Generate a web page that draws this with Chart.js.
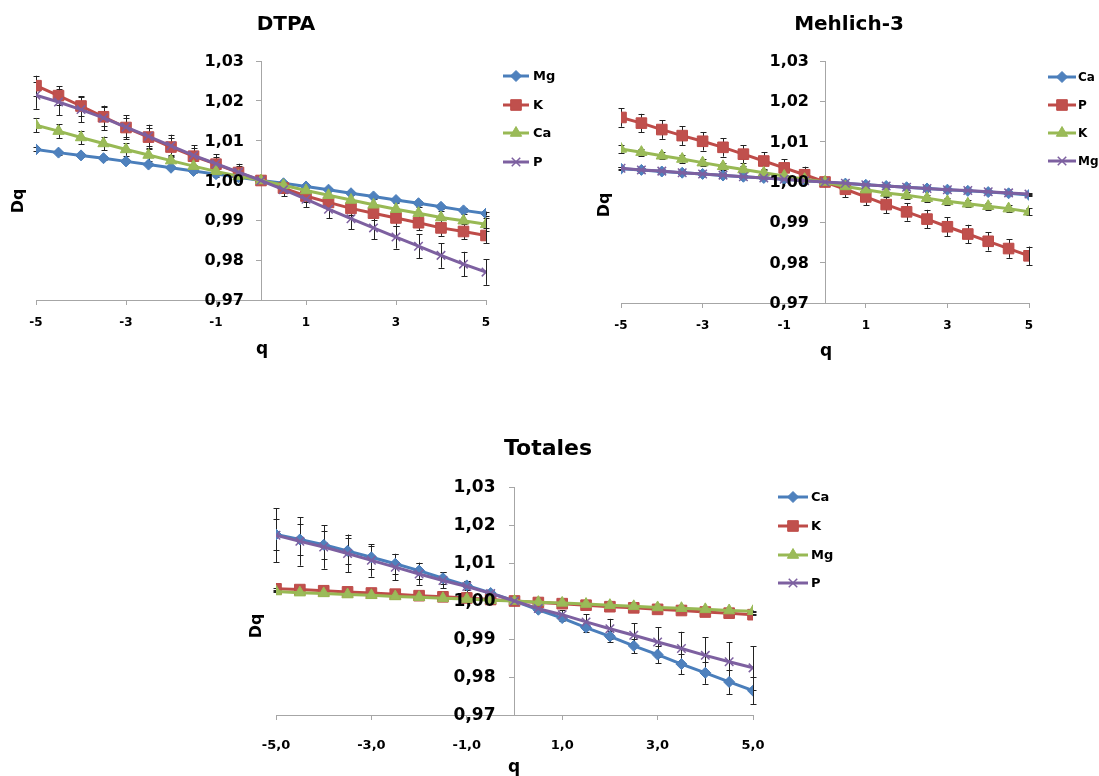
<!DOCTYPE html>
<html><head><meta charset="utf-8">
<script src="https://cdn.jsdelivr.net/npm/chart.js@4.4.1/dist/chart.umd.min.js"></script>
<style>
html,body{margin:0;padding:0;background:#fff;}
body{width:1099px;height:776px;position:relative;overflow:hidden;}
canvas{position:absolute;}
</style></head><body>
<canvas id="c1" width="575" height="370" style="left:0px;top:0px"></canvas>
<canvas id="c2" width="524" height="370" style="left:575px;top:0px"></canvas>
<canvas id="c3" width="640" height="356" style="left:230px;top:420px"></canvas>
<script>
// ---------- DATA ----------
const qValues = [-5,-4.5,-4,-3.5,-3,-2.5,-2,-1.5,-1,-0.5,0,0.5,1,1.5,2,2.5,3,3.5,4,4.5,5];
const xTickValues = [-5,-3,-1,1,3,5];
const yTickValues = [0.97,0.98,0.99,1.00,1.01,1.02,1.03];

// DTPA
const dtpaTitle = 'DTPA';
const dtpaNames = ['Mg','K','Ca','P'];
const dtpaMg = [1.0078,1.0070,1.0063,1.0056,1.0048,1.0040,1.0032,1.0024,1.0016,1.0008,1.0000,0.9993,0.9985,0.9977,0.9968,0.9960,0.9951,0.9943,0.9934,0.9925,0.9917];
const dtpaK  = [1.0238,1.0213,1.0187,1.0160,1.0133,1.0109,1.0084,1.0061,1.0041,1.0020,1.0000,0.9981,0.9961,0.9945,0.9930,0.9918,0.9906,0.9894,0.9881,0.9872,0.9862];
const dtpaCa = [1.0139,1.0124,1.0108,1.0093,1.0078,1.0064,1.0050,1.0036,1.0023,1.0011,1.0000,0.9988,0.9975,0.9963,0.9951,0.9939,0.9928,0.9918,0.9907,0.9899,0.9890];
const dtpaP  = [1.0214,1.0197,1.0178,1.0157,1.0134,1.0111,1.0087,1.0063,1.0042,1.0021,1.0000,0.9977,0.9953,0.9928,0.9904,0.9881,0.9858,0.9835,0.9812,0.9790,0.9770];
const dtpaErrMg = [0.0005,0.0005,0.0005,0.0005,0.0005,0.0004,0.0004,0.0004,0.0003,0.0003,0.0003,0.0003,0.0003,0.0004,0.0004,0.0004,0.0004,0.0005,0.0005,0.0005,0.0005];
const dtpaErrK  = [0.0025,0.0024,0.0024,0.0024,0.0023,0.0023,0.0022,0.0021,0.0019,0.0017,0.0008,0.0012,0.0014,0.0016,0.0017,0.0018,0.0019,0.0019,0.0020,0.0020,0.0020];
const dtpaErrCa = [0.0018,0.0017,0.0017,0.0017,0.0016,0.0016,0.0015,0.0014,0.0013,0.0011,0.0006,0.0010,0.0012,0.0013,0.0014,0.0015,0.0016,0.0016,0.0017,0.0017,0.0017];
const dtpaErrP  = [0.0034,0.0033,0.0032,0.0031,0.0030,0.0029,0.0028,0.0026,0.0024,0.0021,0.0010,0.0016,0.0020,0.0023,0.0026,0.0028,0.0029,0.0030,0.0031,0.0031,0.0032];

// Mehlich-3
const mehTitle = 'Mehlich-3';
const mehNames = ['Ca','P','K','Mg'];
const mehCa = [1.0033,1.0030,1.0026,1.0023,1.0020,1.0016,1.0013,1.0010,1.0007,1.0003,1.0000,0.9996,0.9993,0.9990,0.9987,0.9984,0.9981,0.9978,0.9975,0.9972,0.9968];
const mehP  = [1.0160,1.0146,1.0130,1.0115,1.0101,1.0086,1.0069,1.0052,1.0035,1.0018,1.0000,0.9982,0.9963,0.9944,0.9926,0.9908,0.9889,0.9871,0.9853,0.9835,0.9817];
const mehK  = [1.0082,1.0074,1.0065,1.0057,1.0048,1.0039,1.0031,1.0023,1.0015,1.0007,1.0000,0.9989,0.9981,0.9973,0.9967,0.9960,0.9952,0.9946,0.9940,0.9934,0.9926];
const mehMg = [1.0034,1.0030,1.0027,1.0023,1.0020,1.0017,1.0013,1.0010,1.0007,1.0003,1.0000,0.9997,0.9993,0.9990,0.9987,0.9984,0.9981,0.9979,0.9976,0.9973,0.9970];
const mehErrCa = [0.0003,0.0003,0.0003,0.0003,0.0003,0.0003,0.0003,0.0003,0.0003,0.0003,0.0003,0.0003,0.0003,0.0003,0.0003,0.0003,0.0003,0.0003,0.0003,0.0003,0.0003];
const mehErrP  = [0.0023,0.0023,0.0023,0.0023,0.0023,0.0023,0.0022,0.0022,0.0021,0.0020,0.0010,0.0020,0.0021,0.0022,0.0022,0.0023,0.0023,0.0023,0.0023,0.0023,0.0023];
const mehErrK  = [0.0010,0.0009,0.0009,0.0009,0.0009,0.0009,0.0009,0.0009,0.0009,0.0008,0.0006,0.0008,0.0009,0.0009,0.0009,0.0009,0.0009,0.0009,0.0009,0.0009,0.0009];
const mehErrMg = [0.0003,0.0003,0.0003,0.0003,0.0003,0.0003,0.0003,0.0003,0.0003,0.0003,0.0003,0.0003,0.0003,0.0003,0.0003,0.0003,0.0003,0.0003,0.0003,0.0003,0.0003];

// Totales
const totTitle = 'Totales';
const totNames = ['Ca','K','Mg','P'];
const totCa = [1.0175,1.0162,1.0148,1.0132,1.0115,1.0098,1.0080,1.0060,1.0041,1.0021,1.0000,0.9977,0.9955,0.9930,0.9907,0.9882,0.9859,0.9834,0.9811,0.9787,0.9764];
const totK  = [1.0032,1.0030,1.0027,1.0024,1.0021,1.0018,1.0014,1.0011,1.0008,1.0004,1.0000,0.9996,0.9993,0.9989,0.9985,0.9982,0.9978,0.9975,0.9971,0.9968,0.9964];
const totMg = [1.0025,1.0022,1.0020,1.0017,1.0015,1.0012,1.0010,1.0007,1.0005,1.0002,1.0000,0.9997,0.9995,0.9992,0.9989,0.9986,0.9983,0.9981,0.9978,0.9975,0.9973];
const totP  = [1.0173,1.0157,1.0142,1.0125,1.0107,1.0089,1.0071,1.0054,1.0038,1.0020,1.0000,0.9980,0.9964,0.9945,0.9927,0.9910,0.9892,0.9875,0.9857,0.9840,0.9824];
const totErrCa = [0.0042,0.0040,0.0037,0.0034,0.0030,0.0026,0.0021,0.0016,0.0011,0.0006,0.0002,0.0004,0.0008,0.0012,0.0015,0.0019,0.0023,0.0026,0.0029,0.0032,0.0035];
const totErrK  = [0.0002,0.0002,0.0002,0.0002,0.0002,0.0002,0.0002,0.0002,0.0002,0.0002,0.0002,0.0002,0.0002,0.0002,0.0002,0.0002,0.0002,0.0002,0.0002,0.0002,0.0002];
const totErrMg = [0.0002,0.0002,0.0002,0.0002,0.0002,0.0002,0.0002,0.0002,0.0002,0.0002,0.0002,0.0002,0.0002,0.0002,0.0002,0.0002,0.0002,0.0002,0.0002,0.0002,0.0002];
const totErrP  = [0.0071,0.0064,0.0057,0.0050,0.0043,0.0035,0.0028,0.0021,0.0014,0.0008,0.0003,0.0006,0.0012,0.0020,0.0026,0.0032,0.0039,0.0044,0.0048,0.0051,0.0057];

// ---------- STYLE ----------
const FONT = "'DejaVu Sans', Verdana, sans-serif";
const AXIS = '#A6A6A6';
const seriesStyles = [
  {line:'#4A7EBB', fill:'#4F81BD', pointStyle:'rectRot', radius:5.5},
  {line:'#BE4B48', fill:'#C0504D', pointStyle:'rect', radius:7.5},
  {line:'#98B954', fill:'#9BBB59', pointStyle:'triangle', radius:6.5},
  {line:'#7D60A0', fill:'#8064A2', pointStyle:'crossRot', radius:6}
];

const fmtY = v => Number(v).toFixed(2).replace('.', ',');

const extrasPlugin = {
  id: 'extras',
  beforeDatasetsDraw(chart) {
    const ctx = chart.ctx, ys = chart.scales.y;
    ctx.save();
    ctx.strokeStyle = '#222';
    ctx.lineWidth = 1;
    chart.data.datasets.forEach((ds, i) => {
      const meta = chart.getDatasetMeta(i);
      meta.data.forEach((pt, j) => {
        const v = ds.data[j].y, e = ds.errors[j];
        const y1 = ys.getPixelForValue(v + e), y2 = ys.getPixelForValue(v - e);
        const x = Math.round(pt.x) + 0.5;
        ctx.beginPath();
        ctx.moveTo(x, y1); ctx.lineTo(x, y2);
        ctx.moveTo(x - 3, Math.round(y1) + 0.5); ctx.lineTo(x + 3, Math.round(y1) + 0.5);
        ctx.moveTo(x - 3, Math.round(y2) + 0.5); ctx.lineTo(x + 3, Math.round(y2) + 0.5);
        ctx.stroke();
      });
    });
    ctx.restore();
  },
  afterDraw(chart) {
    const o = chart.options.plugins.extras;
    const ctx = chart.ctx;
    const xs = chart.scales.x, ys = chart.scales.y;
    ctx.save();
    // y tick labels (left of the axis crossing at q = 0)
    const axisX = xs.getPixelForValue(0);
    ctx.fillStyle = '#000';
    ctx.textAlign = 'right';
    ctx.textBaseline = 'middle';
    ctx.font = 'bold ' + o.ySize + 'px ' + FONT;
    yTickValues.forEach(v => ctx.fillText(fmtY(v), axisX - o.yGap, ys.getPixelForValue(v) + 1));
    // titles
    ctx.textAlign = 'center';
    ctx.font = 'bold ' + o.titleSize + 'px ' + FONT;
    ctx.fillText(o.title, o.titleX, o.titleY);
    ctx.font = 'bold 17px ' + FONT;
    ctx.fillText('q', o.qX, o.qY);
    ctx.save();
    ctx.translate(o.dqX, o.dqY);
    ctx.rotate(-Math.PI / 2);
    ctx.font = 'bold 16px ' + FONT;
    ctx.fillText('Dq', 0, 0);
    ctx.restore();
    // legend
    const lg = o.legend;
    chart.data.datasets.forEach((ds, i) => {
      const st = seriesStyles[i];
      const y = lg.ys[i];
      ctx.strokeStyle = st.line;
      ctx.lineWidth = 3;
      ctx.beginPath();
      ctx.moveTo(lg.x0, y); ctx.lineTo(lg.x1, y);
      ctx.stroke();
      ctx.fillStyle = st.fill;
      ctx.strokeStyle = st.line;
      ctx.lineWidth = st.pointStyle === 'crossRot' ? 1.5 : 1;
      Chart.helpers.drawPoint(ctx, {pointStyle: st.pointStyle, radius: st.radius, rotation: 0, borderWidth: ctx.lineWidth}, (lg.x0 + lg.x1) / 2, y);
      ctx.fillStyle = '#000';
      ctx.textAlign = 'left';
      ctx.font = 'bold ' + lg.size + 'px ' + FONT;
      ctx.fillText(ds.label, lg.tx, y + 1);
    });
    ctx.restore();
  }
};

function makeChart(id, title, names, series, errors, cfg) {
  const datasets = series.map((vals, i) => ({
    label: names[i],
    data: qValues.map((q, j) => ({x: q, y: vals[j]})),
    errors: errors[i],
    borderColor: seriesStyles[i].line,
    backgroundColor: seriesStyles[i].fill,
    pointBackgroundColor: seriesStyles[i].fill,
    pointBorderColor: seriesStyles[i].line,
    pointBorderWidth: seriesStyles[i].pointStyle === 'crossRot' ? 1.5 : 1,
    pointStyle: seriesStyles[i].pointStyle,
    pointRadius: seriesStyles[i].radius,
    borderWidth: 3,
    tension: 0,
    order: series.length - 1 - i
  }));
  return new Chart(document.getElementById(id), {
    type: 'line',
    data: {datasets},
    plugins: [extrasPlugin],
    options: {
      responsive: false,
      animation: false,
      devicePixelRatio: 1,
      layout: {padding: cfg.padding},
      plugins: {
        legend: {display: false},
        tooltip: {enabled: false},
        extras: Object.assign({title, ySize: cfg.ySize}, cfg.extras)
      },
      scales: {
        x: {
          type: 'linear', min: -5, max: 5,
          afterBuildTicks: s => { s.ticks = xTickValues.map(v => ({value: v})); },
          afterFit: s => { s.height = 40; },
          grid: {drawOnChartArea: false, color: AXIS, tickLength: 5},
          border: {color: AXIS},
          ticks: {
            autoSkip: false, maxRotation: 0, color: '#000', padding: cfg.xPad,
            font: {family: FONT, weight: 'bold', size: cfg.xSize},
            callback: v => cfg.xDec ? v.toFixed(1).replace('.', ',') : String(v)
          }
        },
        y: {
          type: 'linear', position: {x: 0}, min: 0.97, max: 1.03,
          afterBuildTicks: s => { s.ticks = yTickValues.map(v => ({value: v})); },
          grid: {drawOnChartArea: false, color: AXIS, tickLength: 5},
          border: {color: AXIS},
          ticks: {display: false}
        }
      }
    }
  });
}

makeChart('c1', dtpaTitle, dtpaNames, [dtpaMg, dtpaK, dtpaCa, dtpaP], [dtpaErrMg, dtpaErrK, dtpaErrCa, dtpaErrP], {
  padding: {left: 36, right: 89, top: 61, bottom: 30},
  xPad: 11, xSize: 12, xDec: false, ySize: 16,
  extras: {yGap: 17, titleSize: 20, titleX: 286, titleY: 25, qX: 262, qY: 350, dqX: 19, dqY: 201,
    legend: {x0: 503, x1: 529, tx: 533, size: 13, ys: [76, 105, 133, 162]}}
});
makeChart('c2', mehTitle, mehNames, [mehCa, mehP, mehK, mehMg], [mehErrCa, mehErrP, mehErrK, mehErrMg], {
  padding: {left: 46, right: 70, top: 61, bottom: 27},
  xPad: 11, xSize: 12, xDec: false, ySize: 16,
  extras: {yGap: 16, titleSize: 20, titleX: 274, titleY: 25, qX: 251, qY: 352, dqX: 30, dqY: 205,
    legend: {x0: 473, x1: 501, tx: 503, size: 12, ys: [77, 105, 133, 161]}}
});
makeChart('c3', totTitle, totNames, [totCa, totK, totMg, totP], [totErrCa, totErrK, totErrMg, totErrP], {
  padding: {left: 46, right: 117, top: 67, bottom: 21},
  xPad: 18, xSize: 13, xDec: true, ySize: 17,
  extras: {yGap: 19, titleSize: 22, titleX: 318, titleY: 29, qX: 284, qY: 348, dqX: 27, dqY: 206,
    legend: {x0: 548, x1: 578, tx: 581, size: 13, ys: [77, 106, 135, 163]}}
});
</script>
</body></html>
